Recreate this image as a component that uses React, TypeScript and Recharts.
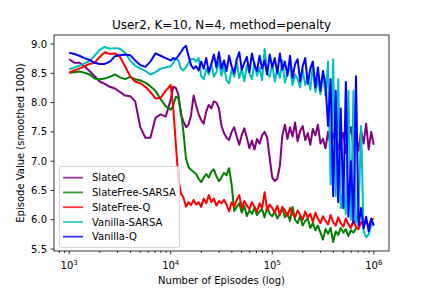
import { LineChart, Line, XAxis, YAxis } from 'recharts';

// episode grid (log spaced), shared by every series
const episodes = [
  1000, 1122, 1259, 1413, 1585, 1778, 1995, 2239, 2512, 2818,
  3162, 3548, 3981, 4467, 5012, 5623, 6310, 7079, 7943, 8913,
  10000, 10593, 11220, 11885, 12589, 13335, 14125, 14962, 15849, 16788,
  17783, 18836, 19953, 21135, 22387, 23714, 25119, 26607, 28184, 29854,
  31623, 33497, 35481, 37584, 39811, 42170, 44668, 47315, 50119, 53088,
  56234, 59566, 63096, 66834, 70795, 74989, 79433, 84140, 89125, 94406,
  100000, 105925, 112202, 118850, 125893, 133352, 141254, 149624, 158489, 167880,
  177828, 188365, 199526, 211349, 223872, 237137, 251189, 266073, 281838, 298538,
  316228, 334965, 354813, 375837, 398107, 421697, 446684, 473151, 501187, 530884,
  562341, 595662, 630957, 668344, 707946, 749894, 794328, 841395, 891251, 944061,
  1000000,
];

const slateQ = [
  8.74, 8.68, 8.68, 8.62, 8.54, 8.45, 8.36, 8.32, 8.27, 8.24,
  8.18, 8.12, 8.11, 8.02, 7.58, 7.40, 7.40, 7.74, 7.80, 7.76,
  8.05, 8.27, 8.25, 8.14, 7.80, 7.68, 7.58, 7.62, 7.78, 8.12,
  7.95, 7.80, 7.70, 7.64, 7.85, 7.96, 7.90, 8.02, 8.00, 7.90,
  7.60, 7.48, 7.40, 7.36, 7.50, 7.58, 7.42, 7.28, 7.45, 7.56,
  7.40, 7.22, 7.35, 7.20, 7.38, 7.30, 7.44, 7.50, 7.40, 7.05,
  6.72, 6.66, 6.70, 6.92, 7.45, 7.62, 7.38, 7.58, 7.42, 7.66,
  7.34, 7.52, 7.60, 7.36, 7.48, 7.28, 7.55, 7.44, 7.62, 7.30,
  7.38, 7.22, 7.50, 7.26, 7.42, 7.55, 7.20, 7.36, 7.48, 7.14,
  7.40, 7.58, 7.24, 7.46, 7.18, 7.52, 7.30, 7.64, 7.20, 7.50,
  7.28,
];

const slateFreeSarsa = [
  8.51, 8.52, 8.53, 8.51, 8.48, 8.41, 8.40, 8.41, 8.44, 8.48,
  8.43, 8.40, 8.44, 8.40, 8.38, 8.34, 8.28, 8.20, 8.06, 7.94,
  7.88, 7.95, 8.10, 8.08, 7.85, 7.50, 7.05, 6.90, 6.85, 6.82,
  6.78, 6.70, 6.64, 6.72, 6.78, 6.72, 6.82, 6.86, 6.74, 6.66,
  6.72, 6.80, 6.76, 6.88, 6.60, 6.15, 6.22, 6.28, 6.12, 6.24,
  6.06, 6.16, 6.10, 6.20, 6.08, 6.14, 6.18, 6.04, 6.22, 6.10,
  6.06, 6.14, 6.02, 6.10, 6.20, 6.04, 6.12, 5.98, 6.22, 6.00,
  5.94, 6.06, 5.90, 5.98, 6.02, 5.86, 5.94, 5.82, 5.90, 5.78,
  5.66, 5.84, 5.76, 5.86, 5.62, 5.80, 5.74, 5.86, 5.78, 5.84,
  5.72, 5.82, 5.78, 5.86, 5.84, null, null, null, null, null,
  null,
];

const slateFreeQ = [
  8.51, 8.55, 8.58, 8.62, 8.66, 8.68, 8.78, 8.86, 8.83, 8.84,
  8.78, 8.62, 8.45, 8.36, 8.33, 8.27, 8.18, 8.07, 8.08, 8.20,
  8.30, 7.90, 7.30, 6.70, 6.45, 6.38, 6.22, 6.30, 6.25, 6.34,
  6.26, 6.30, 6.22, 6.36, 6.28, 6.42, 6.30, 6.36, 6.24, 6.32,
  6.28, 6.34, 6.26, 6.14, 6.30, 6.22, 6.34, 6.42, 6.20, 6.32,
  6.24, 6.18, 6.30, 6.22, 6.14, 6.28, 6.20, 6.47, 6.16, 6.26,
  6.20, 6.12, 6.24, 6.08, 6.22, 6.16, 6.06, 6.20, 6.10, 6.04,
  6.16, 6.08, 6.00, 6.14, 6.04, 6.10, 5.96, 6.12, 6.02, 5.94,
  6.06, 5.98, 5.92, 6.08, 5.96, 5.90, 6.04, 5.94, 5.88, 6.02,
  5.92, 5.86, 5.98, 5.88, 5.84, 5.96, 5.90, 5.98, 5.88, 6.00,
  6.02,
];

const vanillaSarsa = [
  8.57, 8.60, 8.63, 8.67, 8.71, 8.80, 8.90, 8.95, 8.92, 8.93,
  8.92, 8.85, 8.72, 8.63, 8.58, 8.54, 8.48, 8.52, 8.58, 8.60,
  8.62, 8.68, 8.76, 8.72, 8.58, 8.55, 8.60, 8.68, 8.74, 8.75,
  8.70, 8.76, 8.45, 8.40, 8.58, 8.48, 8.66, 8.44, 8.52, 8.70,
  8.46, 8.62, 8.38, 8.33, 8.56, 8.44, 8.70, 8.42, 8.58, 8.36,
  8.64, 8.50, 8.40, 8.68, 8.46, 8.60, 8.38, 8.92, 8.50, 8.44,
  8.66, 8.36, 8.58, 8.42, 8.72, 8.34, 8.52, 8.62, 8.30, 8.48,
  8.40, 8.26, 8.56, 8.30, 8.44, 8.22, 8.64, 8.18, 8.40, 8.14,
  8.50, 8.12, 8.70, 6.60, 8.74, 6.40, 8.40, 6.20, 6.50, 6.10,
  8.20, 6.00, 8.20, 5.95, 6.10, 7.60, 5.80, 5.70, 5.75, 5.90,
  5.95,
];

const vanillaQ = [
  8.85, 8.83, 8.80, 8.76, 8.73, 8.68, 8.66, 8.66, 8.70, 8.79,
  8.81, 8.82, 8.81, 8.72, 8.64, 8.61, 8.70, 8.84, 8.80, 8.76,
  8.72, 8.76, 8.74, 8.80, 8.86, 8.93, 8.97, 8.80, 8.64, 8.58,
  8.62, 8.55, 8.70, 8.58, 8.76, 8.52, 8.66, 8.82, 8.60, 8.86,
  8.58, 8.72, 8.54, 8.80, 8.62, 8.50, 8.74, 8.86, 8.56, 8.68,
  8.78, 8.52, 8.84, 8.64, 8.54, 8.80, 8.58, 8.72, 8.48, 8.82,
  8.60, 8.76, 8.50, 8.84, 8.56, 8.70, 8.46, 8.80, 8.42, 8.66,
  8.74, 8.36, 8.62, 8.76, 8.32, 8.58, 8.70, 8.26, 8.60, 8.20,
  8.54, 8.30, 7.60, 8.40, 6.40, 8.20, 6.30, 7.90, 6.20, 8.35,
  6.05, 7.00, 5.95, 8.45, 5.90, 6.20, 5.85, 6.05, 5.80, 6.02,
  5.90,
];

const xMajorTicks = [1000, 10000, 100000, 1000000];
const xTickExponents = ['3', '4', '5', '6'];
const xMinorTicks = [
  800, 900,
  2000, 3000, 4000, 5000, 6000, 7000, 8000, 9000,
  20000, 30000, 40000, 50000, 60000, 70000, 80000, 90000,
  200000, 300000, 400000, 500000, 600000, 700000, 800000, 900000,
];
const yTicks = [5.5, 6.0, 6.5, 7.0, 7.5, 8.0, 8.5, 9.0];
const yTickLabels = ['5.5', '6.0', '6.5', '7.0', '7.5', '8.0', '8.5', '9.0'];

const series = [
  { key: 'slateQ', name: 'SlateQ', color: '#800080' },
  { key: 'slateFreeSarsa', name: 'SlateFree-SARSA', color: '#008000' },
  { key: 'slateFreeQ', name: 'SlateFree-Q', color: '#ff0000' },
  { key: 'vanillaSarsa', name: 'Vanilla-SARSA', color: '#00bfbf' },
  { key: 'vanillaQ', name: 'Vanilla-Q', color: '#0000ff' },
];

const data = episodes.map((ep, k) => ({
  ep,
  slateQ: slateQ[k],
  slateFreeSarsa: slateFreeSarsa[k],
  slateFreeQ: slateFreeQ[k],
  vanillaSarsa: vanillaSarsa[k],
  vanillaQ: vanillaQ[k],
}));

const FONT = 'DejaVu Sans, sans-serif';
const W = 432;
const H = 288;
const plot = { left: 54, top: 35, right: 389, bottom: 251 };

function XTick(props: any) {
  const { x, y, payload } = props;
  const idx = xMajorTicks.indexOf(payload.value);
  const major = idx >= 0;
  return (
    <g>
      <line x1={x} x2={x} y1={y} y2={y + (major ? 3.5 : 2)} stroke="#000" strokeWidth={0.8} />
      {major && (
        <text x={x} y={y + 18} textAnchor="middle" fontSize={10} fill="#000" fontFamily={FONT}>
          10<tspan dy={-4} fontSize={7}>{xTickExponents[idx]}</tspan>
        </text>
      )}
    </g>
  );
}

function YTick(props: any) {
  const { x, y, payload } = props;
  const idx = yTicks.indexOf(payload.value);
  return (
    <g>
      <line x1={x - 3.5} x2={x} y1={y} y2={y} stroke="#000" strokeWidth={0.8} />
      <text x={x - 7} y={y + 3.6} textAnchor="end" fontSize={10} fill="#000" fontFamily={FONT}>
        {yTickLabels[idx]}
      </text>
    </g>
  );
}

export default function App() {
  const midX = (plot.left + plot.right) / 2;
  const midY = (plot.top + plot.bottom) / 2;
  return (
    <div style={{ position: 'absolute', left: 0, top: 0, width: W, height: H, background: '#fff', fontFamily: FONT }}>
      <LineChart
        width={W}
        height={H}
        data={data}
        margin={{ top: plot.top, right: W - plot.right, bottom: 7, left: 0 }}
      >
        <XAxis
          dataKey="ep"
          type="number"
          scale="log"
          domain={[708, 1413000]}
          allowDataOverflow
          ticks={[...xMinorTicks, ...xMajorTicks].sort((a, b) => a - b)}
          interval={0}
          tick={XTick}
          tickLine={false}
          axisLine={false}
          tickSize={0}
          tickMargin={0}
          height={30}
        />
        <YAxis
          type="number"
          domain={[5.466, 9.154]}
          allowDataOverflow
          ticks={yTicks}
          interval={0}
          tick={YTick}
          tickLine={false}
          axisLine={false}
          tickSize={0}
          tickMargin={0}
          width={plot.left}
        />
        {series.map(s => (
          <Line
            key={s.key}
            type="linear"
            dataKey={s.key}
            name={s.name}
            stroke={s.color}
            strokeWidth={2}
            strokeLinejoin="round"
            dot={false}
            activeDot={false}
            isAnimationActive={false}
          />
        ))}
      </LineChart>
      <svg width={W} height={H} style={{ position: 'absolute', left: 0, top: 0, pointerEvents: 'none' }}>
        <rect
          x={plot.left}
          y={plot.top}
          width={plot.right - plot.left}
          height={plot.bottom - plot.top}
          fill="none"
          stroke="#000"
          strokeWidth={0.8}
        />
        <text x={midX} y={29} textAnchor="middle" fontSize={12} fill="#000" fontFamily={FONT}>
          User2, K=10, N=4, method=penalty
        </text>
        <text x={midX} y={284} textAnchor="middle" fontSize={10} fill="#000" fontFamily={FONT}>
          Number of Episodes (log)
        </text>
        <text
          x={0}
          y={0}
          transform={`translate(24, ${midY}) rotate(-90)`}
          textAnchor="middle"
          fontSize={10}
          fill="#000"
          fontFamily={FONT}
        >
          Episode Value (smoothed 1000)
        </text>
        <rect x={59.5} y={166.5} width={120} height={81} rx={2} fill="#fff" fillOpacity={0.8} stroke="#cccccc" strokeWidth={0.8} />
        {series.map((s, i) => {
          const cy = 177.7 + i * 14.75;
          return (
            <g key={s.key}>
              <line x1={63} x2={83} y1={cy} y2={cy} stroke={s.color} strokeOpacity={0.8} strokeWidth={1.8} />
              <text x={92} y={cy + 3.6} fontSize={10} fill="#000" fontFamily={FONT}>
                {s.name}
              </text>
            </g>
          );
        })}
      </svg>
    </div>
  );
}
